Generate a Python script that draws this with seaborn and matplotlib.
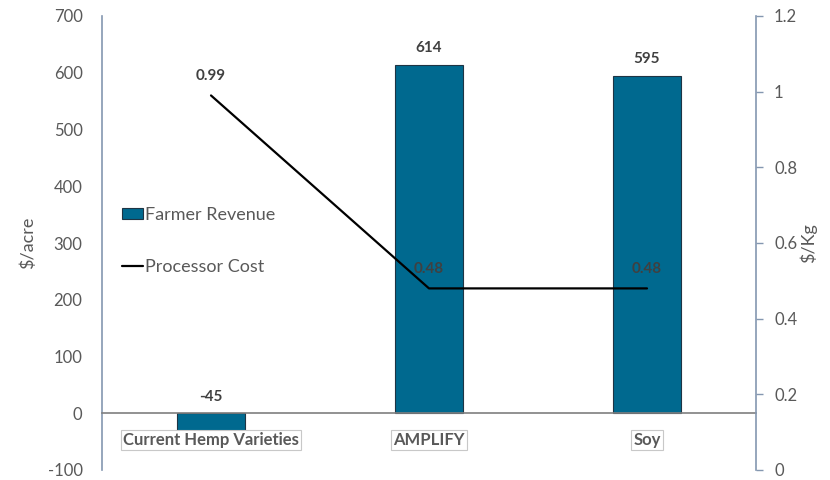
import matplotlib
matplotlib.use("Agg")
import matplotlib.pyplot as plt
import seaborn as sns
import pandas as pd

categories = ["Current Hemp Varieties", "AMPLIFY", "Soy"]
farmer_revenue = [-45, 614, 595]
processor_cost = [0.99, 0.48, 0.48]
left_ticks = [-100, 0, 100, 200, 300, 400, 500, 600, 700]
right_ticks = [0, 0.2, 0.4, 0.6, 0.8, 1.0, 1.2]
right_ticklabels = ["0", "0.2", "0.4", "0.6", "0.8", "1", "1.2"]

sns.set_theme(style="white")
plt.rcParams["font.family"] = ["Lato", "DejaVu Sans"]

GRAY = "#595959"
SPINE = "#8497B0"
BAR = "#00698F"

df = pd.DataFrame({"cat": categories, "rev": farmer_revenue, "cost": processor_cost})

fig = plt.figure(figsize=(8.3, 4.8), dpi=100)
ax = fig.add_axes([102/830, 1-470/480, (756-102)/830, (470-16)/480])

sns.barplot(data=df, x="cat", y="rev", ax=ax, color=BAR, width=0.31,
            edgecolor="#1E3444", linewidth=0.8, label="Farmer Revenue", saturation=1)
ax.set_ylim(-100, 700)
ax.set_xlim(-0.5, 2.5)
ax.set_yticks(left_ticks)
ax.set_yticklabels([str(t) for t in left_ticks])
ax.set_xlabel("")
ax.set_ylabel("$/acre", color=GRAY, fontsize=13, labelpad=8)
ax.tick_params(axis="y", length=0, pad=14, labelcolor=GRAY, labelsize=12)
ax.tick_params(axis="x", length=0, labelbottom=False)
for s in ["top", "right"]:
    ax.spines[s].set_visible(False)
ax.spines["left"].set_color(SPINE)
ax.spines["left"].set_linewidth(1.2)
ax.spines["bottom"].set_position(("data", 0))
ax.spines["bottom"].set_color("#7F7F7F")
ax.spines["bottom"].set_linewidth(1.2)

# category labels in boxes, just under the zero line
for i, c in enumerate(categories):
    ax.annotate(c, (i, 0), xytext=(0, -19), textcoords="offset points",
                ha="center", va="center", fontsize=12, fontweight="bold", color=GRAY,
                bbox=dict(facecolor="white", edgecolor="#C8C8C8", linewidth=0.8, pad=1.5),
                zorder=5)

for i, v in enumerate(farmer_revenue):
    ax.annotate(str(v), (i, max(v, 0)), xytext=(0, 7), textcoords="offset points",
                ha="center", va="bottom", fontsize=11, fontweight="bold", color="#404040")

ax2 = ax.twinx()
sns.lineplot(x=[0, 1, 2], y=processor_cost, ax=ax2, color="black", linewidth=1.6,
             label="Processor Cost", legend=False)
ax2.set_ylim(0, 1.2)
ax2.set_yticks(right_ticks)
ax2.set_yticklabels(right_ticklabels)
ax2.set_ylabel("$/Kg", color=GRAY, fontsize=13, labelpad=2)
ax2.tick_params(axis="y", length=5, width=1, color=SPINE, pad=8, labelcolor=GRAY, labelsize=12)
ax2.tick_params(axis="x", length=0, labelbottom=False)
for s in ["top", "left", "bottom"]:
    ax2.spines[s].set_visible(False)
ax2.spines["right"].set_color(SPINE)
ax2.spines["right"].set_linewidth(1.2)
ax2.set_xlim(-0.5, 2.5)
ax2.set_xlabel("")

for i, v in enumerate(processor_cost):
    ax2.annotate(f"{v:.2f}", (i, v), xytext=(0, 9), textcoords="offset points",
                 ha="center", va="bottom", fontsize=11, fontweight="bold", color="#404040")

h1, l1 = ax.get_legend_handles_labels()
h2, l2 = ax2.get_legend_handles_labels()
if ax.get_legend() is not None:
    ax.get_legend().remove()
if ax2.get_legend() is not None:
    ax2.get_legend().remove()
ax2.legend(h1 + h2, l1 + l2, loc="center left", bbox_to_anchor=(0.005, 0.505),
           frameon=False, fontsize=13, labelspacing=2.0, handlelength=1.2,
           handletextpad=0.1, handleheight=0.55, labelcolor=GRAY)

fig.savefig("out.png", dpi=100)
